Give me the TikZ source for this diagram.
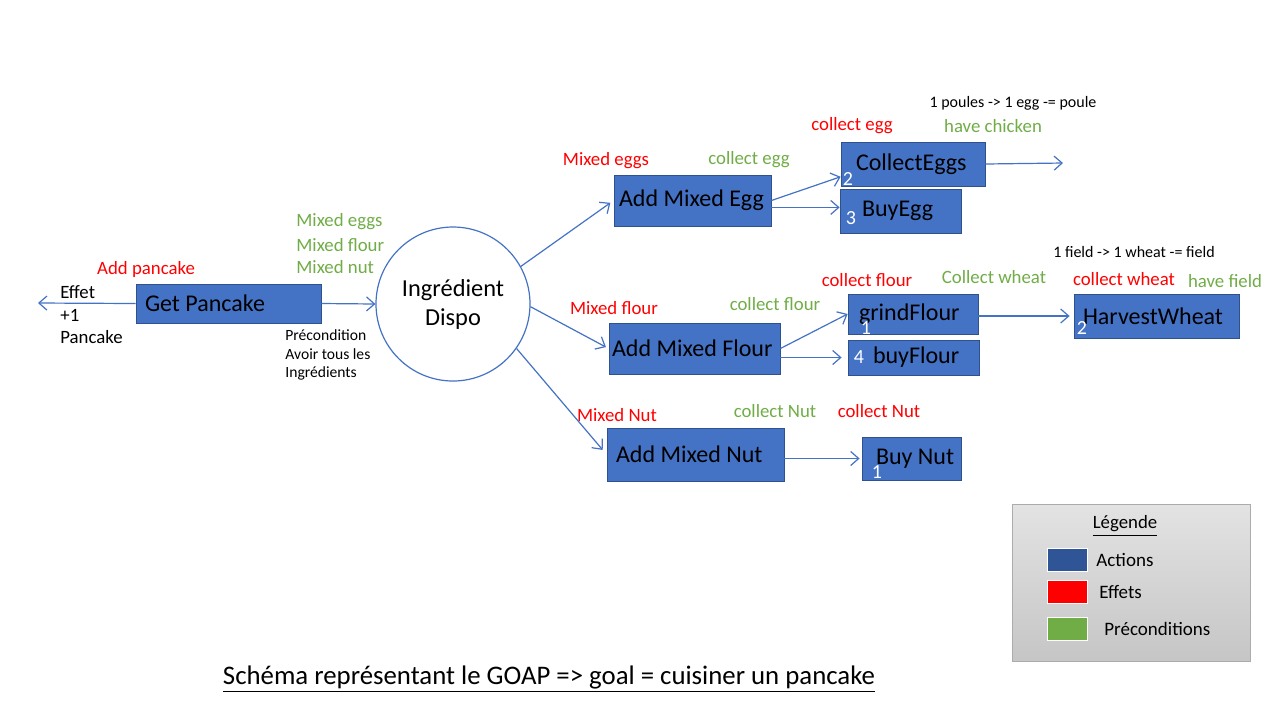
\documentclass[tikz,border=0pt]{standalone}
\usepackage{fontspec}
\setmainfont{Carlito}
\usetikzlibrary{arrows.meta}

\definecolor{actfill}{HTML}{4472C4}
\definecolor{actline}{HTML}{2F528F}
\definecolor{legblue}{HTML}{2F5597}
\definecolor{effred}{HTML}{FF0000}
\definecolor{prego}{HTML}{70AD47}

\begin{document}
\begin{tikzpicture}[x=0.5pt, y=-0.5pt,
	act/.style={draw=actline, fill=actfill, rectangle, inner ysep=0pt, align=flush left, font=\fontsize{12}{14}\selectfont},
	link/.style={->, >={Straight Barb[length=4pt, width=7pt]}, draw=actfill, line width=0.6pt},
	effet/.style={text=effred, inner sep=1pt, font=\fontsize{9.4}{11}\selectfont},
	precond/.style={text=prego, inner sep=1pt, font=\fontsize{9.4}{11}\selectfont},
	note/.style={inner sep=0pt, font=\fontsize{7.8}{9}\selectfont},
	num/.style={text=white, inner sep=0pt, font=\fontsize{10}{12}\selectfont}]

	%page, pixel units, y going down
	\useasboundingbox [fill=white] (0,0) rectangle (1280,720);

	%action boxes: name/x/y/height/pad/text width/text  (sizes in pt)
	\foreach \nm/\cx/\cy/\h/\p/\tw/\txt in {pancake/228.5/303.5/19.5/4.5/83.5/Get Pancake,
		addegg/692.5/200.5/25.5/2.5/73.5/Add Mixed Egg,
		collecteggs/913/164/22/7.5/57/CollectEggs,
		buyegg/900.5/211/22/11/38.5/BuyEgg,
		addflour/694.5/348.5/25.5/1.5/82.5/Add Mixed Flour,
		grindflour/913/314/20/5.5/54/grindFlour,
		buyflour/913.5/357.5/17.5/12.5/40.5/buyFlour,
		harvest/1156.5/316/22/4.5/73.5/HarvestWheat,
		addnut/695.5/454.5/26.5/4.5/79.5/Add Mixed Nut,
		buynut/911.5/458.5/21.5/7/35.5/Buy Nut}
	{
		\node[act, minimum height=\h pt, inner xsep=\p pt, text width=\tw pt] (\nm) at (\cx,\cy) {\mbox{\txt}};
	}

	%costs, white digits in the boxes
	\foreach \nm/\x/\y/\n in {collecteggs/848/179/2, buyegg/851/218/3, grindflour/866/328/1,
		buyflour/859/357/4, harvest/1082/328/2, buynut/877/472/1}
	{
		\node[num] (n\nm) at (\x,\y) {\n};
	}

	%the state node
	\node[draw=actfill, line width=0.6pt, circle, minimum size=77pt, inner sep=0pt, align=center,
		font=\fontsize{12.2}{14.5}\selectfont] (dispo) at (453,304) {Ingrédient\\Dispo};

	%effects (red)
	\foreach \x/\y/\txt [count=\i] in {146/269/Add pancake, 606/161/Mixed eggs, 852/126/collect egg,
		614/308/Mixed flour, 867/280/collect flour, 1124/279/collect wheat,
		617/415/Mixed Nut, 879/411/collect Nut}
	{
		\node[effet] (eff\i) at (\x,\y) {\txt};
	}

	%preconditions (green)
	\foreach \x/\y/\txt [count=\i] in {749/160/collect egg, 993/126/have chicken, 775/304/collect flour,
		994/277/Collect wheat, 1225/281/have field, 775/411/collect Nut}
	{
		\node[precond] (pre\i) at (\x,\y) {\txt};
	}
	\foreach \y/\txt [count=\i] in {222/Mixed eggs, 245/Mixed flour, 267/Mixed nut}
	{
		\node[precond, anchor=west, inner sep=0pt] (mix\i) at (296,\y) {\txt};
	}

	%black notes
	\foreach \y/\txt [count=\i] in {292/Effet, 315/+1, 337/Pancake}
	{
		\node[effet, text=black, anchor=west, inner sep=0pt] (gain\i) at (60,\y) {\txt};
	}
	\foreach \y/\txt [count=\i] in {335/Précondition, 354/Avoir tous les, 373/Ingrédients}
	{
		\node[note, anchor=west] (need\i) at (285,\y) {\txt};
	}
	\node[note, font=\fontsize{8}{9}\selectfont] (poule) at (1013,103) {1 poules -> 1 egg -= poule};
	\node[note, font=\fontsize{8}{9}\selectfont] (field) at (1134,252) {1 field -> 1 wheat -= field};

	%Arrows
	\coordinate (effetEnd) at (38,303);
	\coordinate (chickEnd) at (1063,163);

	\draw[link] (pancake.west) -- (effetEnd);
	\draw[link] (pancake.east) -- (dispo.west);
	\draw[link, shorten >=2pt] (dispo.29) -- (addegg.west);
	\draw[link, shorten >=1.5pt] (dispo.-2) -- (addflour.west);
	\draw[link, shorten >=3pt] (dispo.-35) -- (addnut.west);
	\draw[link] (addegg.east) -- (collecteggs.190);
	\draw[link] (addegg.-5) -- (addegg.-5 -| buyegg.west);
	\draw[link] (collecteggs.east) -- (chickEnd);
	\draw[link] (addflour.east) -- (grindflour.west);
	\draw[link, shorten >=3pt] (addflour.east |- buyflour.west) -- (buyflour.west);
	\draw[link, shorten >=2pt] (grindflour.east |- harvest.west) -- (harvest.west);
	\draw[link, shorten >=1pt] (addnut.east |- buynut.west) -- (buynut.west);

	%legend
	\node[draw=gray!65, top color=gray!22, bottom color=gray!45, minimum width=119pt, minimum height=78.5pt]
		(legend) at (1131,582.5) {};
	\node[note, font=\fontsize{9.4}{11}\selectfont] (legtitle) at (1125,526) {\underline{Légende}};
	\foreach \nm/\col/\y/\x/\txt in {actions/legblue/559.5/1096/Actions, effets/effred/591.5/1099/Effets,
		preconds/prego/628.5/1104/Préconditions}
	{
		\node[draw=white, fill=\col, minimum width=20pt, minimum height=11.5pt, inner sep=0pt] (sw\nm) at (1067.5,\y) {};
		\node[note, anchor=west, font=\fontsize{9.5}{11}\selectfont] (lg\nm) at (\x,\y) {\txt};
	}

	%title
	\node[font=\fontsize{13.4}{16}\selectfont] (title) at (549,679)
		{\underline{Schéma représentant le GOAP => goal = cuisiner un pancake}};

\end{tikzpicture}
\end{document}
